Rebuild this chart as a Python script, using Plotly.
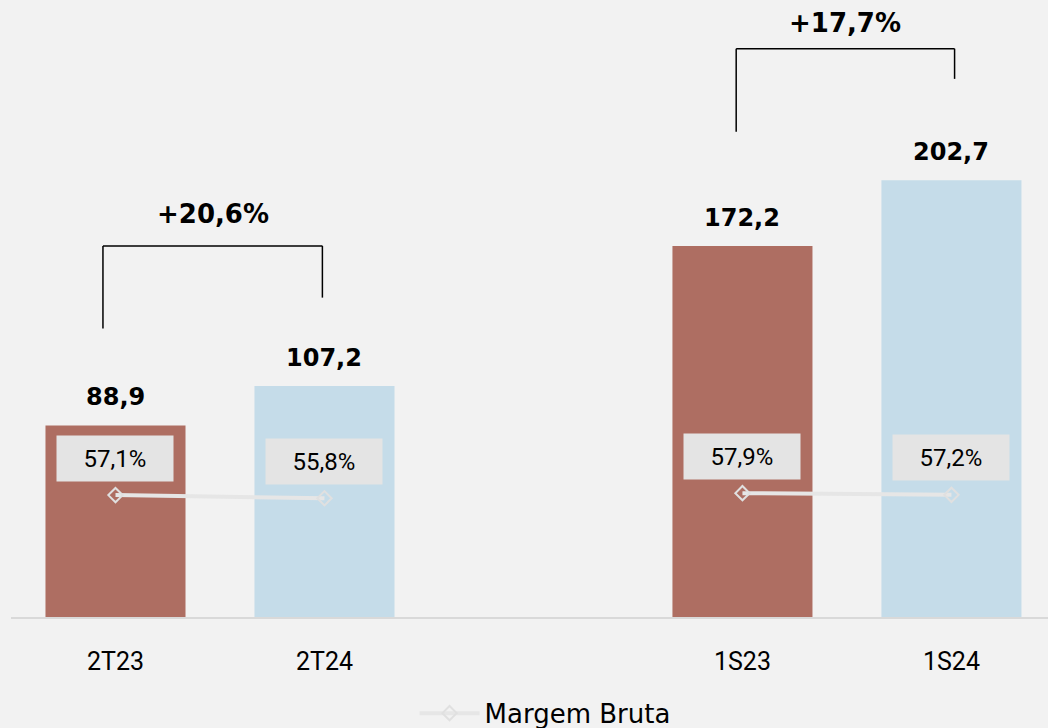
import plotly.graph_objects as go

categories = ["2T23", "2T24", " ", "1S23", "1S24"]
receita = [88.9, 107.2, None, 172.2, 202.7]
margem = [57.1, 55.8, None, 57.9, 57.2]
receita_labels = ["88,9", "107,2", "", "172,2", "202,7"]
margem_labels = ["57,1%", "55,8%", "", "57,9%", "57,2%"]
growth_pairs = [(0, 1), (3, 4)]
growth_labels = ["+20,6%", "+17,7%"]

RED = "#AE6E62"
BLUE = "#C5DCE9"
bar_colors = [RED, BLUE, RED, RED, BLUE]

# bracket styling (offsets in value units / category units / pixels)
bracket_style = [
    dict(leg_a=45, leg_b=41, top=65, dxa=-0.06, dxb=-0.01, text_shift=32),
    dict(leg_a=53, leg_b=47, top=61, dxa=-0.03, dxb=0.015, text_shift=26),
]

fig = go.Figure()
fig.add_trace(go.Bar(
    x=categories, y=receita, marker=dict(color=bar_colors, line=dict(width=0)),
    showlegend=False, hoverinfo="skip",
))
fig.add_trace(go.Scatter(
    x=categories, y=margem, yaxis="y2", mode="lines+markers", name="Margem Bruta",
    line=dict(color="#E6E6E6", width=4),
    marker=dict(symbol="diamond-open", size=11, color="#E0E0E0", line=dict(width=2, color="#E0E0E0")),
    connectgaps=False,
))

ann = []
for i, (v, t) in enumerate(zip(receita, receita_labels)):
    if v is None:
        continue
    ann.append(dict(x=i, y=v, xref="x", yref="y", text=f"<b>{t}</b>", showarrow=False,
                    yshift=28, font=dict(family="DejaVu Sans", size=24, color="#000000")))
for i, (v, t) in enumerate(zip(margem, margem_labels)):
    if v is None:
        continue
    ann.append(dict(x=i, y=v, xref="x", yref="y2", text=t, showarrow=False,
                    yshift=37, width=114, height=43, bgcolor="#E4E4E4",
                    font=dict(family="Roboto", size=24, color="#000000")))

shapes = []
for (a, b), lbl, st in zip(growth_pairs, growth_labels, bracket_style):
    va, vb = receita[a], receita[b]
    top = max(va, vb) + st["top"]
    xa, xb = a + st["dxa"], b + st["dxb"]
    line = dict(color="#000000", width=1.5)
    shapes.append(dict(type="line", xref="x", yref="y", x0=xa, x1=xa,
                       y0=va + st["leg_a"], y1=top, line=line))
    shapes.append(dict(type="line", xref="x", yref="y", x0=xa, x1=xb,
                       y0=top, y1=top, line=line))
    shapes.append(dict(type="line", xref="x", yref="y", x0=xb, x1=xb,
                       y0=vb + st["leg_b"], y1=top, line=line))
    ann.append(dict(x=(xa + xb) / 2, y=top, xref="x", yref="y", text=f"<b>{lbl}</b>",
                    showarrow=False, yshift=st["text_shift"],
                    font=dict(family="DejaVu Sans", size=26, color="#000000")))

fig.update_layout(
    width=1048, height=728,
    margin=dict(l=11, r=0, t=0, b=111, autoexpand=False),
    paper_bgcolor="#F2F2F2", plot_bgcolor="#F2F2F2",
    bargap=0.33,
    xaxis=dict(type="category", categoryorder="array", categoryarray=categories,
               range=[-0.5, 4.462], showgrid=False, showline=True, linecolor="#D9D9D9",
               linewidth=2, ticks="", ticklabelstandoff=21,
               tickfont=dict(family="Roboto", size=25, color="#000000")),
    yaxis=dict(range=[0, 286.3], showgrid=False, showticklabels=False, zeroline=False),
    yaxis2=dict(range=[6.3, 263.4], overlaying="y", showgrid=False, showticklabels=False,
                zeroline=False),
    showlegend=True,
    legend=dict(orientation="h", x=0.515, xanchor="center", y=-0.156, yanchor="middle",
                itemwidth=60,
                font=dict(family="DejaVu Sans", size=26, color="#000000"),
                bgcolor="rgba(0,0,0,0)"),
    annotations=ann, shapes=shapes,
)

fig.write_html("out.html", config={"displayModeBar": False},
               post_script="document.body.style.margin='0';document.body.style.background='#F2F2F2';")
